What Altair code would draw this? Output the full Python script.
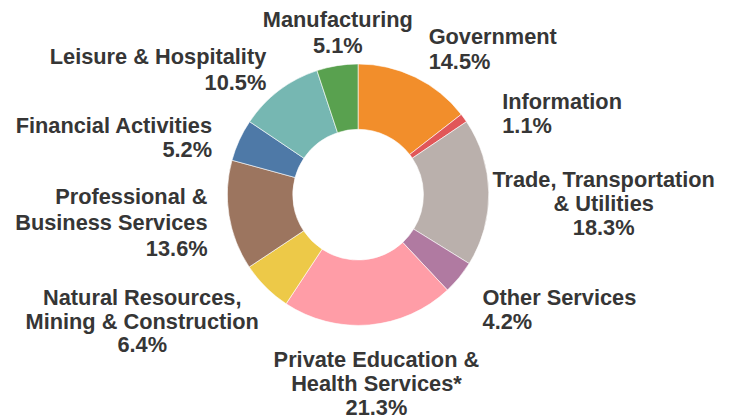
import altair as alt
import pandas as pd

# ---- data ----
categories = [
    "Government", "Information", "Trade, Transportation & Utilities",
    "Other Services", "Private Education & Health Services*",
    "Natural Resources, Mining & Construction",
    "Professional & Business Services", "Financial Activities",
    "Leisure & Hospitality", "Manufacturing",
]
values = [14.5, 1.1, 18.3, 4.2, 21.3, 6.4, 13.6, 5.2, 10.5, 5.1]
label_lines = [
    "Government\n14.5%",
    "Information\n1.1%",
    "Trade, Transportation\n& Utilities\n18.3%",
    "Other Services\n4.2%",
    "Private Education &\nHealth Services*\n21.3%",
    "Natural Resources,\nMining & Construction\n6.4%",
    "Professional &\nBusiness Services\n13.6%",
    "Financial Activities\n5.2%",
    "Leisure & Hospitality\n10.5%",
    "Manufacturing\n5.1%",
]
colors = ["#f28e2b", "#e15759", "#bab0ac", "#b07aa1", "#ff9da7",
          "#edc948", "#9c755f", "#4e79a7", "#76b7b2", "#59a14f"]

# ---- layout (label alignment, nudges, line height) ----
label_layout = {
    "Government": ("left", 1, -8, 24.5),
    "Information": ("left", 16, 7, 24.5),
    "Trade, Transportation & Utilities": ("center", 88, -5, 24.5),
    "Other Services": ("left", 2, 10, 24.5),
    "Private Education & Health Services*": ("center", 5, 15, 24),
    "Natural Resources, Mining & Construction": ("center", -105, -2, 24),
    "Professional & Business Services": ("right", 6, -16, 26),
    "Financial Activities": ("right", -2, 4, 24.5),
    "Leisure & Hospitality": ("right", 4, -4, 26),
    "Manufacturing": ("center", 5, -11, 25.5),
}

cum = []
s = 0.0
for v in values:
    cum.append(s + v / 2)
    s += v

df = pd.DataFrame({
    "idx": list(range(len(categories))),
    "category": categories,
    "value": values,
    "mid": cum,
    "label": label_lines,
})

color_scale = alt.Scale(domain=categories, range=colors)

base = alt.Chart(df)

arcs = base.mark_arc(innerRadius=66, outerRadius=132, stroke="white",
                     strokeWidth=0.6).encode(
    theta=alt.Theta("value:Q", stack=True),
    color=alt.Color("category:N", scale=color_scale, legend=None),
    order=alt.Order("idx:Q"),
)

layers = [arcs]
for cat in categories:
    align, dx, dy, lh = label_layout[cat]
    t = base.transform_filter(alt.datum.category == cat).mark_text(
        align=align, baseline="alphabetic", dx=dx, dy=dy,
        font="Liberation Sans", fontSize=22, fontWeight="bold",
        color="#363636", lineBreak="\n", lineHeight=lh,
    ).encode(
        theta=alt.Theta("mid:Q", stack=None),
        radius=alt.value(160),
        text="label:N",
    )
    layers.append(t)

chart = alt.layer(*layers).properties(
    width=699, height=373,
    autosize=alt.AutoSizeParams(type="none"),
    padding={"left": 4, "top": 0, "right": 20, "bottom": 38},
).configure_view(stroke=None)

chart.save("out.html", embed_options={"renderer": "svg", "actions": False})
